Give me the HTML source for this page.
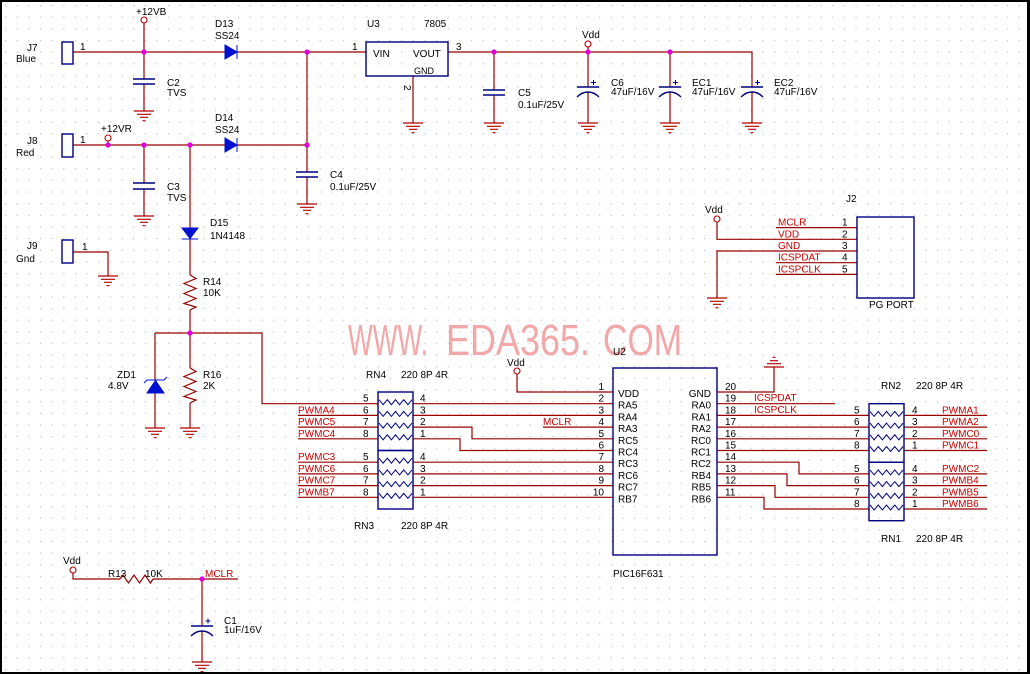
<!DOCTYPE html>
<html><head><meta charset="utf-8">
<style>
html,body{margin:0;padding:0;background:#fff;}
svg{display:block;}
text{font-family:"Liberation Sans",Arial,sans-serif;font-size:10px;fill:#000;}
.r{fill:#cc0000;}
.w{stroke:#990000;stroke-width:1.2;fill:none;}
.n{stroke:#000080;stroke-width:1.4;fill:none;}
.e{text-anchor:end;}
</style></head><body>
<svg width="1030" height="674" viewBox="0 0 1030 674" xmlns="http://www.w3.org/2000/svg">
<defs>
<pattern id="grid" x="5" y="5" width="11.65" height="11.65" patternUnits="userSpaceOnUse"><rect width="1.2" height="1.2" fill="#c2c2c2"/></pattern>
<path id="gnd" d="M-10,0H10M-7,3.3H7M-4,6.3H4M-1.5,9.7H1.5" stroke="#b00000" stroke-width="1.2" fill="none"/>
<path id="gndi" d="M-10,0H10M-7,-3.3H7M-4,-6.3H4M-1.5,-9.7H1.5" stroke="#b00000" stroke-width="1.2" fill="none"/>
<circle id="j" r="2.6" fill="#e000e0"/>
<circle id="pp" r="3" fill="#fff" stroke="#b00000" stroke-width="1.1"/>
<path id="zz" d="M0,-4 L4.1,1 L8.25,-4 L12.4,1 L16.5,-4 L20.6,1 L24.75,-4 L28.9,1 L33,-4" stroke="#000080" stroke-width="1" fill="none"/>
<path id="ecap" d="M-11,0H11M-11,10Q-6,5 0,5Q6,5 11,10" stroke="#000080" stroke-width="1.4" fill="none"/>
<path id="plus" d="M-2.5,0H2.5M0,-2.5V2.5" stroke="#000080" stroke-width="1" fill="none"/>
</defs>
<rect width="1030" height="674" fill="#fff"/>
<rect width="1030" height="674" fill="url(#grid)"/>

<!-- watermark -->
<text x="348" y="355" textLength="80" lengthAdjust="spacingAndGlyphs" style="fill:#f2a8a8;font-size:44px">WWW.</text>
<text x="446" y="355" textLength="144" lengthAdjust="spacingAndGlyphs" style="fill:#f2a8a8;font-size:44px">EDA365.</text>
<text x="603" y="355" textLength="79" lengthAdjust="spacingAndGlyphs" style="fill:#f2a8a8;font-size:44px">COM</text>

<!-- wires -->
<path class="w" d="M73,52H225M237,52H366M144,23V79M144,84V111M307,52V172M307,177V204
M73,145H225M237,145H307M108,141V145M144,145V183M144,189V216M190,145V228
M190,239V275M190,310V368M190,403V428M155,333H262V403.7H378M155,333V380M155,393V428
M73,252H108V276M413,76V123M448,52H752V87M494,52V90M494,95V123
M588,47V87M588,92V123M670,52V87M670,92V123M752,92V123
M717,222V239.3H857M717,298V251H857M776,227.6H857M776,262.7H857M776,274.4H857
M517,374V392H613M413,403.7H613M413,415.4H613M543,427.1H613
M413,427.1H472V438.8H613M413,438.8H460V450.5H613
M413,462.2H613M413,473.9H613M413,485.6H613M413,497.3H613
M298,415.4H378M298,427.1H378M298,438.8H378M298,462.2H378M298,473.9H378M298,485.6H378M298,497.3H378
M717,392H774V367M717,403.7H835M717,415.4H869M717,427.1H869M717,438.8H869M717,450.5H869
M717,462.2H799V473.9H869M717,473.9H787V485.6H869M717,485.6H775V497.3H869M717,497.3H764V509H869
M904,415.4H987M904,427.1H987M904,438.8H987M904,450.5H987M904,473.9H987M904,485.6H987M904,497.3H987M904,509H987
M73,573V579H120M153,579H238M202,579V626M202,631V662"/>

<!-- resistors -->
<path class="w" d="M190,275 L196,278.5 L184,283.5 L196,288.5 L184,293.5 L196,298.5 L184,303.5 L196,307 L190,310"/>
<path class="w" d="M190,368 L196,371.5 L184,376.5 L196,381.5 L184,386.5 L196,391.5 L184,396.5 L196,400 L190,403"/>
<path class="w" d="M120,579 L123,575 L128.5,583 L134,575 L139.5,583 L145,575 L150.5,583 L153,579"/>

<!-- boxes -->
<g class="n">
<rect x="62" y="42" width="11" height="22" fill="#fff"/>
<rect x="62" y="134" width="11" height="23" fill="#fff"/>
<rect x="62" y="240" width="11" height="23" fill="#fff"/>
<rect x="366" y="42" width="82" height="34"/>
<rect x="857" y="217" width="57" height="81"/>
<rect x="378" y="392" width="35" height="58.5"/>
<rect x="378" y="450.5" width="35" height="58.5"/>
<rect x="613" y="368" width="104" height="187"/>
<rect x="869" y="403.7" width="35" height="58.5"/>
<rect x="869" y="462.2" width="35" height="58.5"/>
</g>

<!-- RN zigzags -->
<use href="#zz" x="379" y="403.7"/><use href="#zz" x="379" y="415.4"/><use href="#zz" x="379" y="427.1"/><use href="#zz" x="379" y="438.8"/>
<use href="#zz" x="379" y="462.2"/><use href="#zz" x="379" y="473.9"/><use href="#zz" x="379" y="485.6"/><use href="#zz" x="379" y="497.3"/>
<use href="#zz" x="870" y="415.4"/><use href="#zz" x="870" y="427.1"/><use href="#zz" x="870" y="438.8"/><use href="#zz" x="870" y="450.5"/>
<use href="#zz" x="870" y="473.9"/><use href="#zz" x="870" y="485.6"/><use href="#zz" x="870" y="497.3"/><use href="#zz" x="870" y="509"/>

<!-- diodes -->
<g fill="#0010d0" stroke="#0010d0" stroke-width="1">
<polygon points="225,45 225,59 237,52"/><path d="M237,45V59"/>
<polygon points="225,138 225,152 237,145"/><path d="M237,138V152"/>
<polygon points="182,228 198,228 190,238.5"/><path d="M182,239H198"/>
<polygon points="147,393 164,393 155.5,380.5"/><path d="M144,383L147,380H164L167,377" fill="none"/>
</g>

<!-- capacitors -->
<path class="n" d="M133,79H155M133,84H155M133,183H155M133,189H155M296,172H318M296,177H318M483,90H505M483,95H505"/>
<use href="#ecap" x="588" y="87"/><use href="#plus" x="593.5" y="82.5"/>
<use href="#ecap" x="670" y="87"/><use href="#plus" x="675.5" y="82.5"/>
<use href="#ecap" x="752" y="87"/><use href="#plus" x="757.5" y="82.5"/>
<use href="#ecap" x="202" y="626"/><use href="#plus" x="208" y="621"/>

<!-- grounds -->
<use href="#gnd" x="144" y="111"/><use href="#gnd" x="144" y="216"/><use href="#gnd" x="307" y="204"/>
<use href="#gnd" x="108" y="276"/><use href="#gnd" x="155" y="428"/><use href="#gnd" x="190" y="428"/>
<use href="#gnd" x="413" y="123"/><use href="#gnd" x="494" y="123"/><use href="#gnd" x="588" y="123"/>
<use href="#gnd" x="670" y="123"/><use href="#gnd" x="752" y="123"/><use href="#gnd" x="717" y="298"/>
<use href="#gnd" x="202" y="662"/><use href="#gndi" x="774" y="367"/>

<!-- power ports -->
<use href="#pp" x="144" y="20"/><use href="#pp" x="108" y="138"/><use href="#pp" x="588" y="44"/>
<use href="#pp" x="717" y="219"/><use href="#pp" x="517" y="371"/><use href="#pp" x="73" y="570"/>

<!-- junctions -->
<use href="#j" x="144" y="52"/><use href="#j" x="307" y="52"/><use href="#j" x="108" y="145"/>
<use href="#j" x="144" y="145"/><use href="#j" x="190" y="145"/><use href="#j" x="307" y="145"/>
<use href="#j" x="494" y="52"/><use href="#j" x="588" y="52"/><use href="#j" x="670" y="52"/>
<use href="#j" x="190" y="333"/><use href="#j" x="202" y="579"/>

<!-- text top -->
<text x="27" y="51">J7</text><text x="16" y="62">Blue</text><text x="80" y="50">1</text>
<text x="136" y="15">+12VB</text>
<text x="215" y="27">D13</text><text x="215" y="39">SS24</text>
<text x="167" y="86">C2</text><text x="167" y="96">TVS</text>
<text x="101" y="132">+12VR</text>
<text x="27" y="144">J8</text><text x="16" y="156">Red</text><text x="80" y="143">1</text>
<text x="215" y="121">D14</text><text x="215" y="133">SS24</text>
<text x="167" y="190">C3</text><text x="167" y="201">TVS</text>
<text x="330" y="178">C4</text><text x="330" y="190">0.1uF/25V</text>
<text x="367" y="27">U3</text><text x="424" y="27">7805</text>
<text x="352" y="50">1</text><text x="373" y="57">VIN</text><text x="413" y="57">VOUT</text>
<text x="414" y="74" style="font-size:9px">GND</text><text x="456" y="50">3</text>
<text transform="translate(404,85) rotate(90)">2</text>
<text x="582" y="38">Vdd</text>
<text x="518" y="96">C5</text><text x="518" y="108">0.1uF/25V</text>
<text x="611" y="86">C6</text><text x="611" y="95">47uF/16V</text>
<text x="692" y="86">EC1</text><text x="692" y="95">47uF/16V</text>
<text x="774" y="86">EC2</text><text x="774" y="95">47uF/16V</text>

<!-- J2 -->
<text x="846" y="202">J2</text><text x="705" y="213">Vdd</text>
<text class="r" x="778" y="225.6">MCLR</text><text class="r" x="778" y="237.3">VDD</text>
<text class="r" x="778" y="249">GND</text><text class="r" x="778" y="260.7">ICSPDAT</text>
<text class="r" x="778" y="272.4">ICSPCLK</text>
<text x="842" y="225.6">1</text><text x="842" y="237.3">2</text><text x="842" y="249">3</text>
<text x="842" y="260.7">4</text><text x="842" y="272.4">5</text>
<text x="869" y="308">PG PORT</text>

<!-- left middle -->
<text x="210" y="226">D15</text><text x="210" y="239">1N4148</text>
<text x="27" y="249">J9</text><text x="16" y="262">Gnd</text><text x="82" y="250">1</text>
<text x="203" y="285">R14</text><text x="203" y="296">10K</text>
<text x="117" y="378">ZD1</text><text x="108" y="389">4.8V</text>
<text x="203" y="378">R16</text><text x="203" y="389">2K</text>

<!-- RN4/RN3 -->
<text x="507" y="366">Vdd</text><text x="613" y="355">U2</text>
<text x="366" y="378">RN4</text><text x="401" y="378">220 8P 4R</text>
<text x="354" y="529">RN3</text><text x="401" y="529">220 8P 4R</text>
<text class="r" x="298" y="413.4">PWMA4</text><text class="r" x="298" y="425.1">PWMC5</text>
<text class="r" x="298" y="436.8">PWMC4</text><text class="r" x="298" y="460.2">PWMC3</text>
<text class="r" x="298" y="471.9">PWMC6</text><text class="r" x="298" y="483.6">PWMC7</text>
<text class="r" x="298" y="495.3">PWMB7</text>
<text x="363" y="401.7">5</text><text x="363" y="413.4">6</text><text x="363" y="425.1">7</text><text x="363" y="436.8">8</text>
<text x="363" y="460.2">5</text><text x="363" y="471.9">6</text><text x="363" y="483.6">7</text><text x="363" y="495.3">8</text>
<text x="420" y="401.7">4</text><text x="420" y="413.4">3</text><text x="420" y="425.1">2</text><text x="420" y="436.8">1</text>
<text x="420" y="460.2">4</text><text x="420" y="471.9">3</text><text x="420" y="483.6">2</text><text x="420" y="495.3">1</text>
<text class="r" x="543" y="425">MCLR</text>

<!-- U2 -->
<text class="e" x="604" y="390">1</text><text class="e" x="604" y="401.7">2</text><text class="e" x="604" y="413.4">3</text>
<text class="e" x="604" y="425.1">4</text><text class="e" x="604" y="436.8">5</text><text class="e" x="604" y="448.5">6</text>
<text class="e" x="604" y="460.2">7</text><text class="e" x="604" y="471.9">8</text><text class="e" x="604" y="483.6">9</text>
<text class="e" x="604" y="495.3">10</text>
<text x="618" y="397">VDD</text><text x="618" y="408.7">RA5</text><text x="618" y="420.4">RA4</text>
<text x="618" y="432.1">RA3</text><text x="618" y="443.8">RC5</text><text x="618" y="455.5">RC4</text>
<text x="618" y="467.2">RC3</text><text x="618" y="478.9">RC6</text><text x="618" y="490.6">RC7</text>
<text x="618" y="502.3">RB7</text>
<text class="e" x="711" y="397">GND</text><text class="e" x="711" y="408.7">RA0</text><text class="e" x="711" y="420.4">RA1</text>
<text class="e" x="711" y="432.1">RA2</text><text class="e" x="711" y="443.8">RC0</text><text class="e" x="711" y="455.5">RC1</text>
<text class="e" x="711" y="467.2">RC2</text><text class="e" x="711" y="478.9">RB4</text><text class="e" x="711" y="490.6">RB5</text>
<text class="e" x="711" y="502.3">RB6</text>
<text x="725" y="390">20</text><text x="725" y="401.7">19</text><text x="725" y="413.4">18</text>
<text x="725" y="425.1">17</text><text x="725" y="436.8">16</text><text x="725" y="448.5">15</text>
<text x="725" y="460.2">14</text><text x="725" y="471.9">13</text><text x="725" y="483.6">12</text>
<text x="725" y="495.3">11</text>
<text class="r" x="754" y="401">ICSPDAT</text><text class="r" x="754" y="413">ICSPCLK</text>
<text x="613" y="577">PIC16F631</text>

<!-- RN2/RN1 -->
<text x="881" y="389">RN2</text><text x="916" y="389">220 8P 4R</text>
<text x="881" y="542">RN1</text><text x="916" y="542">220 8P 4R</text>
<text x="854" y="413.4">5</text><text x="854" y="425.1">6</text><text x="854" y="436.8">7</text><text x="854" y="448.5">8</text>
<text x="854" y="471.9">5</text><text x="854" y="483.6">6</text><text x="854" y="495.3">7</text><text x="854" y="507">8</text>
<text x="912" y="413.4">4</text><text x="912" y="425.1">3</text><text x="912" y="436.8">2</text><text x="912" y="448.5">1</text>
<text x="912" y="471.9">4</text><text x="912" y="483.6">3</text><text x="912" y="495.3">2</text><text x="912" y="507">1</text>
<text class="r" x="942" y="413.4">PWMA1</text><text class="r" x="942" y="425.1">PWMA2</text>
<text class="r" x="942" y="436.8">PWMC0</text><text class="r" x="942" y="448.5">PWMC1</text>
<text class="r" x="942" y="471.9">PWMC2</text><text class="r" x="942" y="483.6">PWMB4</text>
<text class="r" x="942" y="495.3">PWMB5</text><text class="r" x="942" y="507">PWMB6</text>

<!-- bottom left -->
<text x="63" y="564">Vdd</text>
<text x="108" y="577">R13</text><text x="145" y="577">10K</text>
<text class="r" x="205" y="577">MCLR</text>
<text x="224" y="624">C1</text><text x="224" y="633">1uF/16V</text>

<!-- border -->
<rect x="0" y="0" width="1030" height="2" fill="#000"/>
<rect x="0" y="0" width="2" height="674" fill="#000"/>
<rect x="1027" y="0" width="3" height="674" fill="#000"/>
<rect x="0" y="672" width="1030" height="2" fill="#000"/>
</svg>
</body></html>
